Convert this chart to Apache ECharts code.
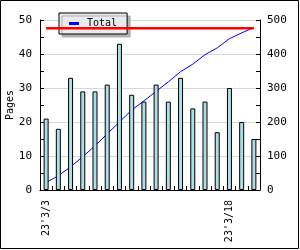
<!DOCTYPE html>
<html>
<head>
<meta charset="utf-8">
<script src="https://cdn.jsdelivr.net/npm/echarts@6/dist/echarts.min.js"></script>
<style>html,body{margin:0;padding:0;background:#fff}#c{width:300px;height:250px}</style>
</head>
<body>
<div id="c"></div>
<script>
var categories = ["23'3/3","23'3/4","23'3/5","23'3/6","23'3/7","23'3/8","23'3/9","23'3/10","23'3/11","23'3/12","23'3/13","23'3/14","23'3/15","23'3/16","23'3/17","23'3/18","23'3/19","23'3/20"];
var pages = [21,18,33,29,29,31,43,28,26,31,26,33,24,26,17,30,20,15];
var total = [22,42,68,98,130,165,200,235,262,290,318,348,370,398,418,445,462,478];
var target = [476,476,476,476,476,476,476,476,476,476,476,476,476,476,476,476,476,476];

var FONT = 'DejaVu Sans Mono';
var chart = echarts.init(document.getElementById('c'), null, {renderer:'canvas'});
chart.setOption({
  animation: false,
  backgroundColor: '#fdfefd',
  textStyle: {fontFamily: FONT},
  graphic: [{
    type: 'rect', silent: true, z: 100,
    shape: {x: 0.5, y: 0.5, width: 298, height: 248},
    style: {fill: 'none', stroke: '#000', lineWidth: 1}
  }],
  legend: {
    data: ['Total'],
    left: 59, top: 13,
    padding: [5, 10, 5, 10],
    itemWidth: 10, itemHeight: 3,
    icon: 'rect',
    backgroundColor: '#ebeaee',
    borderColor: '#000', borderWidth: 1,
    shadowColor: '#b0b0b0', shadowBlur: 0, shadowOffsetX: 3, shadowOffsetY: 3,
    textStyle: {fontFamily: FONT, fontSize: 10, color: '#000', padding: [0,0,0,3], lineHeight: 11}
  },
  grid: {left: 40, right: 40, top: 20, bottom: 60, containLabel: false, outerBoundsMode: 'none'},
  xAxis: {
    type: 'category',
    data: categories,
    boundaryGap: true,
    axisLine: {lineStyle: {color: '#000', width: 1}},
    axisTick: {show: true, inside: true, length: 4, interval: 0, lineStyle: {color: '#000'}},
    axisLabel: {interval: 14, rotate: 90, margin: 10, fontFamily: FONT, fontSize: 10, color: '#000'},
    splitLine: {show: false}
  },
  yAxis: [{
    type: 'value', min: 0, max: 50, interval: 10,
    name: 'Pages', nameLocation: 'middle', nameGap: 25, nameMoveOverlap: false,
    nameTextStyle: {fontFamily: FONT, fontSize: 10, color: '#000'},
    axisLine: {show: true, lineStyle: {color: '#000'}},
    axisTick: {show: true, inside: true, length: 4, lineStyle: {color: '#000'}},
    minorTick: {show: true, splitNumber: 2, length: 4, lineStyle: {color: '#000'}},
    axisLabel: {margin: 8, fontFamily: FONT, fontSize: 11, color: '#000'},
    splitLine: {show: true, lineStyle: {color: '#d8d8d8', width: 1}}
  }, {
    type: 'value', min: 0, max: 500, interval: 100, position: 'right',
    axisLine: {show: true, lineStyle: {color: '#000'}},
    axisTick: {show: true, inside: true, length: 4, lineStyle: {color: '#000'}},
    minorTick: {show: true, splitNumber: 2, length: 4, lineStyle: {color: '#000'}},
    axisLabel: {margin: 7, fontFamily: FONT, fontSize: 11, color: '#000'},
    splitLine: {show: false}
  }],
  series: [{
    name: 'Total', type: 'line', yAxisIndex: 1, data: total, z: 2,
    showSymbol: false, symbol: 'none',
    lineStyle: {color: '#0000ff', width: 1}, itemStyle: {color: '#0000ff'}
  }, {
    name: 'Pages', type: 'bar', yAxisIndex: 0, data: pages, z: 3,
    barWidth: 5,
    itemStyle: {color: '#b0dde4', borderColor: '#000', borderWidth: 1}
  }, {
    name: 'Target', type: 'line', yAxisIndex: 1, data: target, z: 4,
    showSymbol: false, symbol: 'none',
    lineStyle: {color: '#ff0000', width: 2.5}, itemStyle: {color: '#ff0000'}
  }]
});
</script>
</body>
</html>
